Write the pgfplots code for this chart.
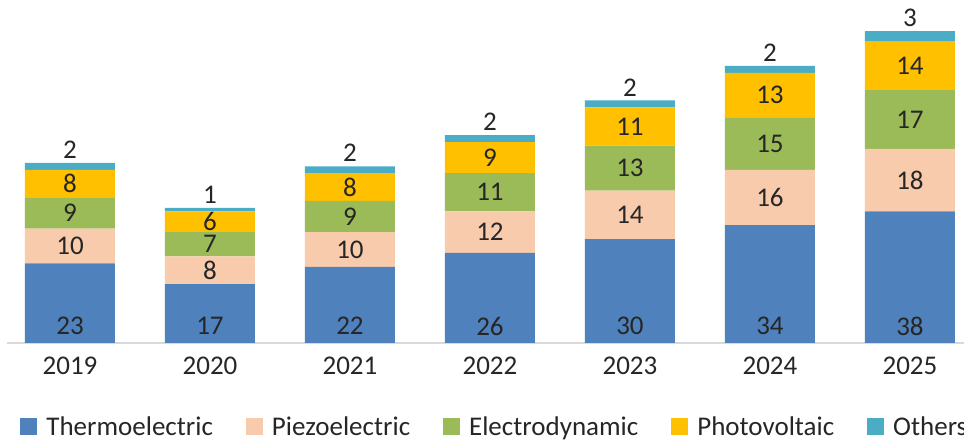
\documentclass[border=0pt]{standalone}
\usepackage{pgfplots}
\pgfplotsset{compat=1.18}
\usepackage{pgfplotstable}
\usepackage{fontspec}
\setmainfont{Carlito}
\definecolor{cBlue}{HTML}{4F81BD}
\definecolor{cPeach}{HTML}{F8CBAD}
\definecolor{cGreen}{HTML}{9BBB59}
\definecolor{cGold}{HTML}{FFC000}
\definecolor{cTeal}{HTML}{4BACC6}
\definecolor{txt}{HTML}{262626}
\definecolor{axgray}{HTML}{D9D9D9}
\pgfplotstableread{
x thermo piezo electro photo others
0 23 10 9 8 2
1 17 8 7 6 1
2 22 10 9 8 2
3 26 12 11 9 2
4 30 14 13 11 2
5 34 16 15 13 2
6 38 18 17 14 3
}\data
% label positions derived from the data
\pgfplotstablecreatecol[create col/expr={4.9}]{ythermo}\data
\pgfplotstablecreatecol[create col/expr={\thisrow{thermo}+\thisrow{piezo}/2}]{ypiezo}\data
\pgfplotstablecreatecol[create col/expr={\thisrow{thermo}+\thisrow{piezo}+\thisrow{electro}/2}]{yelectro}\data
\pgfplotstablecreatecol[create col/expr={\thisrow{thermo}+\thisrow{piezo}+\thisrow{electro}+\thisrow{photo}/2}]{yphoto}\data
\pgfplotstablecreatecol[create col/expr={\thisrow{thermo}+\thisrow{piezo}+\thisrow{electro}+\thisrow{photo}+\thisrow{others}}]{yothers}\data
\newcommand{\lfont}{\fontsize{13.5}{16}\selectfont}
\pgfplotsset{
  common/.style={
    scale only axis, width=478.5pt, height=171.5pt,
    xmin=-0.45, xmax=6.386, ymin=0, ymax=99, clip=false,
  },
  lab/.style={only marks, mark=*, mark size=0pt, mark options={draw=none, fill=none},
    nodes near coords, point meta=explicit symbolic,
    every node near coord/.style={font=\lfont, text=txt, anchor=center, inner sep=0pt}},
}
\begin{document}
\begin{tikzpicture}
\begin{axis}[
  common,
  ybar stacked, bar width=45pt,
  axis x line*=bottom, axis y line=none, ytick=\empty,
  x axis line style={draw=axgray, line width=1pt, -},
  xtick={0,...,6}, xticklabels={2019,2020,2021,2022,2023,2024,2025},
  major tick length=0pt,
  xticklabel style={font=\lfont, text=txt, yshift=-3.5pt},
  legend columns=5,
  legend cell align=left,
  legend image code/.code={\fill[#1, draw=none] (0pt,-3.6pt) rectangle (8.5pt,4.9pt);},
  legend style={draw=none, fill=none, inner sep=0pt, font=\lfont, text=txt,
    anchor=west, at={(0.0136,-0.248)},
    /tikz/every odd column/.append style={column sep=2.5pt},
    /tikz/every even column/.append style={column sep=14.5pt}},
]
\addplot[fill=cBlue, draw=none] table[x=x,y=thermo]{\data};
\addplot[fill=cPeach, draw=none] table[x=x,y=piezo]{\data};
\addplot[fill=cGreen, draw=none] table[x=x,y=electro]{\data};
\addplot[fill=cGold, draw=none] table[x=x,y=photo]{\data};
\addplot[fill=cTeal, draw=none] table[x=x,y=others]{\data};
\legend{Thermoelectric,Piezoelectric,Electrodynamic,Photovoltaic,Others}
\end{axis}
\begin{axis}[common, hide axis]
\addplot[lab] table[x=x,y=ythermo,meta=thermo]{\data};
\addplot[lab] table[x=x,y=ypiezo,meta=piezo]{\data};
\addplot[lab] table[x=x,y=yelectro,meta=electro]{\data};
\addplot[lab] table[x=x,y=yphoto,meta=photo]{\data};
\addplot[lab, every node near coord/.append style={anchor=south, yshift=2pt}] table[x=x,y=yothers,meta=others]{\data};
\end{axis}
\pgfresetboundingbox
\path[use as bounding box] ([xshift=-3.5pt,yshift=-50pt]current axis.south west) rectangle (current axis.north east);
\end{tikzpicture}
\end{document}
